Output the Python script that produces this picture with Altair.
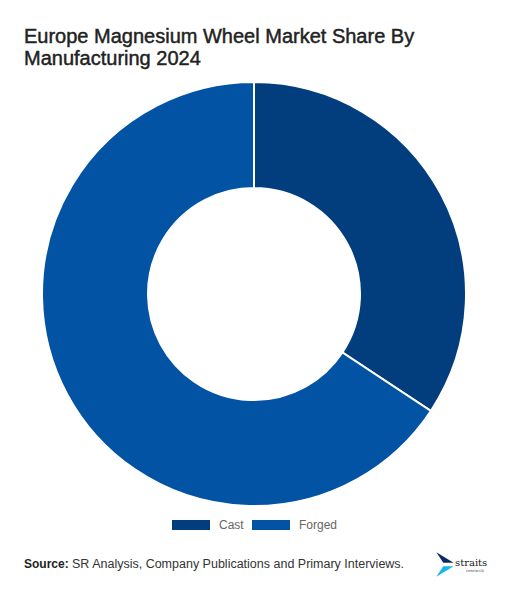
import altair as alt
import pandas as pd

categories = ["Cast", "Forged"]
shares = [34.3, 65.7]
colors = ["#023e7d", "#0353a4"]
order = [1, 2]

title_lines = ["Europe Magnesium Wheel Market Share By", "Manufacturing 2024"]
source_label = "Source:"
source_text = "SR Analysis, Company Publications and Primary Interviews."

df = pd.DataFrame({"Manufacturing": categories, "share": shares, "ord": order})

W, H = 498, 581
CX, CY = 246, 286

donut = alt.Chart(df).mark_arc(
    radius=212, radius2=106, stroke="white", strokeWidth=2
).encode(
    x=alt.value(CX),
    y=alt.value(CY),
    theta=alt.Theta("share:Q", stack=True),
    order=alt.Order("ord:Q"),
    color=alt.Color(
        "Manufacturing:N",
        scale=alt.Scale(domain=categories, range=colors),
        legend=alt.Legend(
            title=None,
            orient="none",
            direction="horizontal",
            legendX=163,
            legendY=511,
            symbolType="M-1,-1H6.6V1H-1Z",
            symbolSize=100,
            symbolStrokeWidth=0,
            labelOffset=36,
            columnPadding=7,
            labelFontSize=12,
            labelColor="#666666",
            labelFont="Liberation Sans",
        ),
    ),
)

def text_layer(txt, x, y, size, weight="normal", color="#222222", font="Liberation Sans", sw=0):
    props = dict(align="left", baseline="alphabetic", fontSize=size, fontWeight=weight,
                 color=color, font=font)
    if sw:
        props.update(stroke=color, strokeWidth=sw)
    return alt.Chart(pd.DataFrame({"t": [txt]})).mark_text(**props).encode(
        x=alt.value(x), y=alt.value(y), text="t:N")

t1 = text_layer(title_lines[0], 16, 34.7, 20, color="#222222", sw=0.45)
t2 = text_layer(title_lines[1], 16, 56.7, 20, color="#222222", sw=0.45)
s1 = text_layer(source_label, 16, 559.7, 12, weight="bold", color="#222222")
s2 = text_layer(source_text, 64, 559.7, 12.5, color="#333333")

logo_top = alt.Chart(pd.DataFrame({"k": ["a"]})).mark_point(
    shape="M-1,-1L1,0.2L-0.2,0.2Z", filled=True, size=300, color="#0d2b5c", opacity=1
).encode(x=alt.value(437), y=alt.value(553))
logo_bot = alt.Chart(pd.DataFrame({"k": ["b"]})).mark_point(
    shape="M-1,1L1,-0.2L-0.2,-0.2Z", filled=True, size=300, color="#19b5ea", opacity=1
).encode(x=alt.value(437), y=alt.value(560))
logo_t = text_layer("straits", 447, 558, 10, color="#1a1a1a", font="DejaVu Serif")
logo_r = text_layer("research", 458, 564, 4, color="#555555", font="DejaVu Serif")

chart = alt.layer(donut, t1, t2, s1, s2, logo_top, logo_bot, logo_t, logo_r).properties(
    width=W, height=H, padding=0, autosize=alt.AutoSizeParams(type="none"),
    background="white"
).configure_view(stroke=None)

chart.save("out.html", embed_options={"renderer": "svg", "actions": False})
